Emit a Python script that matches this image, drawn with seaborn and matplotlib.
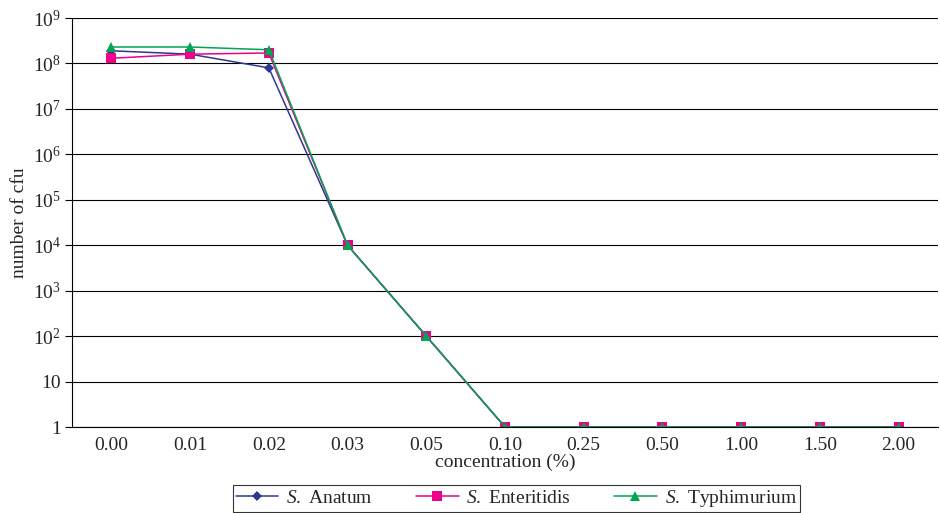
import matplotlib
matplotlib.use("Agg")
import matplotlib.pyplot as plt
import seaborn as sns
import pandas as pd
import numpy as np
from matplotlib.ticker import FixedLocator, FuncFormatter

categories = ["0.00", "0.01", "0.02", "0.03", "0.05", "0.10", "0.25", "0.50", "1.00", "1.50", "2.00"]
anatum = [1.9e8, 1.6e8, 0.8e8, 1e4, 1e2, 1, 1, 1, 1, 1, 1]
enteritidis = [1.3e8, 1.6e8, 1.7e8, 1e4, 1e2, 1, 1, 1, 1, 1, 1]
typhimurium = [2.3e8, 2.3e8, 2.0e8, 1e4, 1e2, 1, 1, 1, 1, 1, 1]
series_names = [r"$\it{S.}$ Anatum", r"$\it{S.}$ Enteritidis", r"$\it{S.}$ Typhimurium"]

sns.set_theme(style="white")
plt.rcParams['font.family'] = ['Liberation Serif', 'DejaVu Serif']
plt.rcParams['mathtext.fontset'] = 'custom'
plt.rcParams['mathtext.rm'] = 'Liberation Serif'
plt.rcParams['mathtext.it'] = 'Liberation Serif:italic'

rows = []
for name, vals in zip(series_names, [anatum, enteritidis, typhimurium]):
    for i, v in enumerate(vals):
        rows.append({"pos": i, "cfu": v, "series": name})
df = pd.DataFrame(rows)

fig = plt.figure(figsize=(9.4, 5.13), dpi=100)
ax = fig.add_axes([72/940, 1-427/513, 866/940, 409/513])

palette = {series_names[0]: "#2B3990", series_names[1]: "#EC008C", series_names[2]: "#00A651"}
markers = {series_names[0]: "D", series_names[1]: "s", series_names[2]: "^"}

sns.lineplot(data=df, x="pos", y="cfu", hue="series", style="series", markers=markers,
             dashes=False, palette=palette, ax=ax, linewidth=1.1, markersize=7,
             markeredgewidth=0, legend="full")
ax.lines[0].set_markersize(5.5)
ax.set_yscale("log")
ax.set_ylim(1, 1e9)
ax.set_xlim(-0.5, len(categories) - 0.5)

ax.yaxis.set_major_locator(FixedLocator([10.0**k for k in range(10)]))
ax.yaxis.set_minor_locator(FixedLocator([]))
def yfmt(v, p):
    k = int(round(np.log10(v)))
    if k == 0:
        return "1"
    if k == 1:
        return "10"
    return r"$10^{%d}$" % k
ax.yaxis.set_major_formatter(FuncFormatter(yfmt))
ax.grid(axis="y", color="black", linewidth=0.8)

ax.set_xticks(range(len(categories)))
ax.set_xticklabels(categories)
ax.set_xticks(np.arange(-0.5, len(categories), 1.0), minor=True)
ax.tick_params(axis="x", which="major", length=0, labelsize=14, pad=7)
ax.tick_params(axis="x", which="minor", length=5, width=0.8, color="black", direction="out")
ax.tick_params(axis="y", which="major", length=5, width=0.8, color="black", direction="out", labelsize=14, left=True, pad=3)

for s in ["top", "right"]:
    ax.spines[s].set_visible(False)
for s in ["left", "bottom"]:
    ax.spines[s].set_color("black")
    ax.spines[s].set_linewidth(0.8)

ax.set_xlabel("concentration (%)", fontsize=14, labelpad=0)
ax.set_ylabel("number of cfu", fontsize=14, labelpad=3)

handles, labels = ax.get_legend_handles_labels()
leg = ax.legend(handles, labels, loc="upper center", bbox_to_anchor=(0.513, -0.141),
                ncol=3, frameon=True, fontsize=14, handlelength=2.2, columnspacing=2.2,
                borderpad=0.15, handletextpad=0.4, fancybox=False, edgecolor="black",
                borderaxespad=0)
leg.get_frame().set_linewidth(0.8)
leg.legend_handles[0].set_markersize(5.5)

fig.savefig("out.png", dpi=100)
